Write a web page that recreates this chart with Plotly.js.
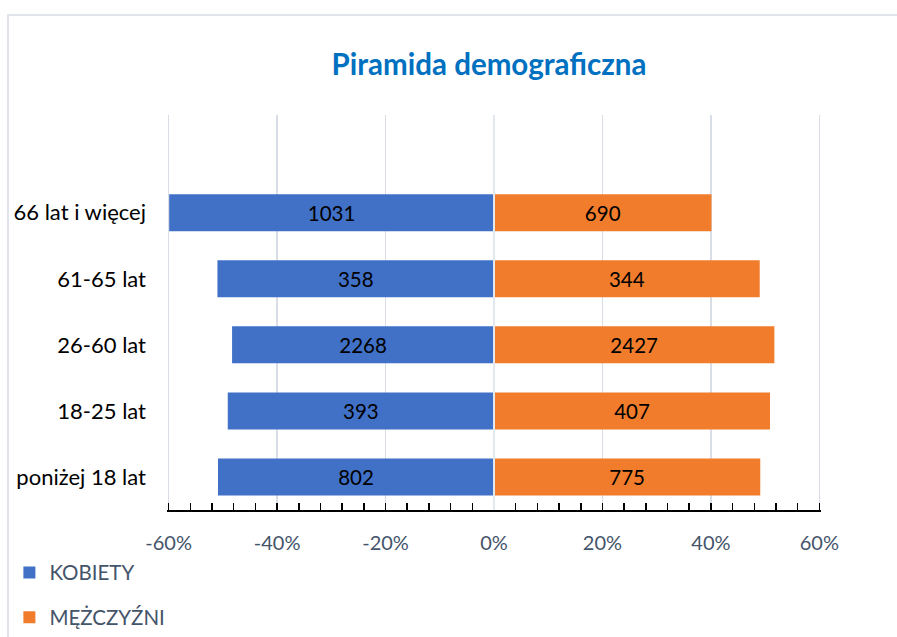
<!DOCTYPE html>
<html>
<head>
<meta charset="utf-8">
<script src="https://cdn.plot.ly/plotly-3.0.1.min.js"></script>
<style>
  html, body { margin: 0; padding: 0; background: #ffffff; overflow: hidden; }
  #frame { position: absolute; left: 7px; top: 14px; width: 900px; height: 640px;
           border-left: 2px solid #e1e4ea; border-top: 2px solid #e1e4ea; }
  #chart { position: absolute; left: 0; top: 0; width: 888px; height: 621px; }
</style>
</head>
<body>
<div id="frame"><div id="chart"></div></div>
<script>
// Age groups, listed from bottom to top of the pyramid
const categories = ['poniżej 18 lat', '18-25 lat', '26-60 lat', '61-65 lat', '66 lat i więcej'];
// Share within each age group (%), women drawn to the left (negative)
const kobietyPct = [-50.9, -49.1, -48.3, -51.0, -59.9];
const mezczyzniPct = [49.1, 50.9, 51.7, 49.0, 40.1];
// Counts shown as labels on the bars
const kobietyCount = [802, 393, 2268, 358, 1031];
const mezczyzniCount = [775, 407, 2427, 344, 690];
// Axis ticks
const tickVals = [-60, -40, -20, 0, 20, 40, 60];
const tickText = ['-60%', '-40%', '-20%', '0%', '20%', '40%', '60%'];

const FONT = 'Lato, "Liberation Sans", sans-serif';

const traces = [
  {
    type: 'bar', orientation: 'h', name: 'KOBIETY', legendgroup: 'k',
    y: categories, x: kobietyPct,
    text: kobietyCount.map(String), textposition: 'inside', insidetextanchor: 'middle',
    textangle: 0, constraintext: 'none',
    textfont: { family: FONT, size: 20.5, color: '#000000' },
    marker: { color: '#4171c7' }, hoverinfo: 'skip'
  },
  {
    type: 'bar', orientation: 'h', name: 'MĘŻCZYŹNI', legendgroup: 'm',
    y: categories, x: mezczyzniPct,
    text: mezczyzniCount.map(String), textposition: 'inside', insidetextanchor: 'middle',
    textangle: 0, constraintext: 'none',
    textfont: { family: FONT, size: 20.5, color: '#000000' },
    marker: { color: '#f07c2c' }, hoverinfo: 'skip'
  }
];

const layout = {
  width: 888, height: 621,
  margin: { l: 158, r: 76, t: 99, b: 127, autoexpand: false },
  paper_bgcolor: '#ffffff', plot_bgcolor: '#ffffff',
  barmode: 'relative', bargap: 0.44,
  font: { family: FONT, color: '#44546a' },
  title: {
    text: '<b>Piramida demograficzna</b>',
    font: { family: FONT, size: 29.5, color: '#0070c0' },
    x: 0.5405, xanchor: 'center', y: 0.922, yanchor: 'middle'
  },
  xaxis: {
    range: [-60.3, 60.3], tickvals: tickVals, ticktext: tickText,
    showgrid: true, gridcolor: '#d9dee6', gridwidth: 1.5, zeroline: false,
    showline: true, linecolor: '#000000', linewidth: 2,
    ticks: 'inside', ticklen: 7, tickwidth: 1.5, tickcolor: '#000000',
    minor: { dtick: 4, tick0: 0, ticks: 'inside', ticklen: 7, tickwidth: 1.5, tickcolor: '#000000', showgrid: false },
    ticklabelstandoff: 14, automargin: false,
    tickfont: { family: FONT, size: 20, color: '#44546a' },
    fixedrange: true
  },
  yaxis: {
    type: 'category', categoryorder: 'array', categoryarray: categories,
    range: [-0.5, 5.48], automargin: false,
    showgrid: false, zeroline: false, showline: false, ticks: '',
    ticklabelstandoff: 20,
    tickfont: { family: FONT, size: 22, color: '#000000' },
    fixedrange: true
  },
  shapes: [
    { type: 'line', xref: 'x', yref: 'paper', x0: 0, x1: 0, y0: 0, y1: 1,
      line: { color: '#e3e7ee', width: 2 }, layer: 'above' }
  ],
  showlegend: true,
  legend: {
    orientation: 'v', x: -0.241, xanchor: 'left', y: -0.108, yanchor: 'top',
    font: { family: FONT, size: 20.5, color: '#44546a' },
    tracegroupgap: 15, traceorder: 'grouped', bgcolor: 'rgba(0,0,0,0)'
  }
};

Plotly.newPlot('chart', traces, layout, { displayModeBar: false, staticPlot: true });
</script>
</body>
</html>
